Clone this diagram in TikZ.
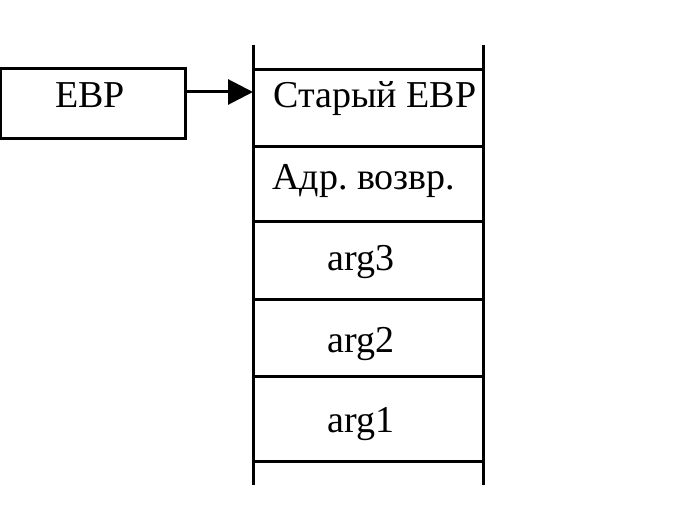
\documentclass[tikz,border=0pt]{standalone}
\usepackage{fontspec}
\setmainfont{Liberation Serif}
\usetikzlibrary{arrows.meta, positioning}

\begin{document}
\begin{tikzpicture}[x=1pt, y=-1pt, line width=3pt,
        cell/.style={draw, minimum width=230pt, inner sep=0pt, outer sep=0pt, anchor=north west},
        lbl/.style={font=\fontsize{38}{44}\selectfont, inner sep=0pt, anchor=base}]
        \useasboundingbox (0,0) rectangle (691,505);

        \node[draw, minimum width=185pt, minimum height=70pt, outer sep=0pt, anchor=north west] (ebp) at (0, 69) {};
        \node[cell, minimum height=77pt] (old) at (253, 70) {};
        \node[cell, minimum height=75pt] (ret) at (253, 147) {};
        \node[cell, minimum height=77pt] (a3) at (253, 222) {};
        \node[cell, minimum height=77pt] (a2) at (253, 299) {};
        \node[cell, minimum height=85pt] (a1) at (253, 376) {};

        \coordinate (tl) at (253, 45);
        \coordinate (bl) at (253, 485);
        \coordinate (tr) at (483, 45);
        \coordinate (br) at (483, 485);
        \coordinate (tip) at (253, 92);

        \node[lbl] (ebpt) at (90, 108) {EBP};
        \node[lbl, anchor=base west] (oldt) at (272, 108) {Старый EBP};
        \node[lbl, anchor=base west] (rett) at (271, 190) {Адр.\ возвр.};
        \node[lbl] (a3t) at (361, 270) {arg3};
        \node[lbl] (a2t) at (361, 352) {arg2};
        \node[lbl] (a1t) at (361, 432) {arg1};

        \draw (tl) to (bl)
            (tr) to (br);
        \draw[-{Triangle[length=25pt, width=25pt]}] (ebp.east |- tip) to (tip);
    \end{tikzpicture}
\end{document}
